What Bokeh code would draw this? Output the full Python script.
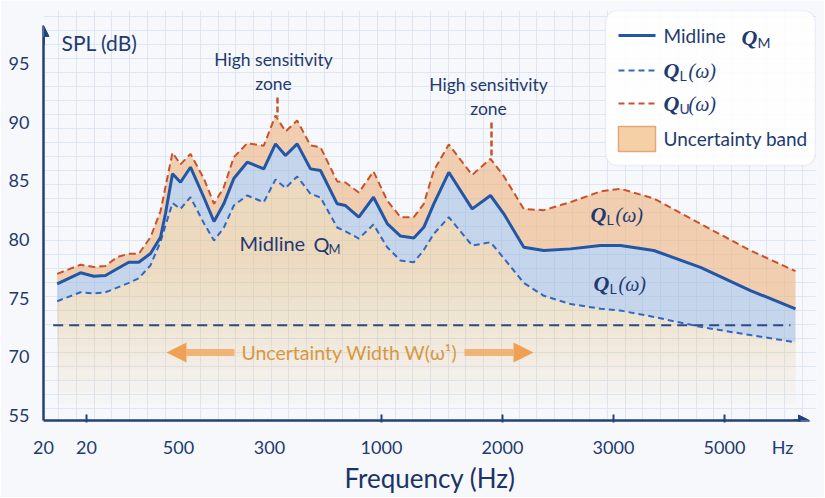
import numpy as np
from bokeh.plotting import figure
from bokeh.models import Range1d, FixedTicker, Arrow, NormalHead, BoxAnnotation
from bokeh.core.properties import value
from bokeh.embed import file_html
from bokeh.resources import INLINE

# ---------------- data (axis positions along the frequency axis, SPL in dB) -------------
freq_pos = [13.7, 37, 50.3, 62, 73.7, 85.3, 95.3, 107, 117, 122, 129, 137, 147, 160.3,
            170.5, 180.3, 190.3, 203.7, 220.3, 232, 242, 253.7, 267, 277, 293.7, 302,
            315.3, 330, 343.7, 357, 370.3, 380.3, 390.3, 405.3, 428.7, 447, 460.3,
            480.3, 500.3, 527, 557, 577, 610.3, 657, 707, 752]
mid_db = [76.22, 77.16, 76.87, 76.93, 77.5, 78.06, 78.06, 78.8, 80.19, 82.21, 85.6, 84.88,
          86.16, 83.6, 81.53, 83.04, 85.2, 86.59, 86.02, 88.15, 87.16, 88.15, 86.02, 85.88,
          83.04, 82.89, 81.9, 83.6, 81.36, 80.29, 80.12, 81.04, 83.04, 85.73, 82.61, 83.75,
          82.19, 79.34, 79.06, 79.2, 79.48, 79.48, 79.06, 77.63, 75.65, 74.09]
upper_db = [77.07, 77.85, 77.65, 77.75, 78.5, 78.78, 78.78, 80.19, 82.4, 84.5, 87.4, 86.4,
            87.3, 85.2, 83.04, 84.45, 87.01, 88.2, 88.0, 90.57, 89.2, 90.14, 88.01, 87.86,
            84.95, 84.86, 84.0, 85.8, 83.32, 81.9, 81.9, 83.04, 85.88, 88.1, 85.5, 86.88,
            85.4, 82.6, 82.5, 83.18, 84.1, 84.32, 83.5, 81.33, 79.06, 77.3]
lower_db = [74.74, 75.5, 75.4, 75.5, 75.9, 76.3, 76.7, 77.8, 79.8, 81.2, 83.1, 82.61,
            83.6, 81.4, 79.91, 81.0, 82.9, 83.75, 83.18, 85.11, 84.39, 85.37, 83.89, 83.58,
            81.02, 80.7, 80.08, 81.27, 79.34, 78.2, 78.06, 79.1, 80.48, 81.9, 79.48, 79.77,
            78.4, 76.3, 75.2, 74.5, 74.1, 73.94, 73.4, 72.55, 71.85, 71.24]
width_ref_db = 72.7

y_ticks = [65, 70, 75, 80, 85, 90, 95]
y_tick_labels = ["55", "70", "75", "80", "85", "90", "95"]
x_ticks = [0, 43, 135, 226, 338, 459, 570, 681, 739]
x_tick_labels = ["20", "20", "500", "300", "1000", "2000", "3000", "5000", "Hz"]
x_tick_marks = [43, 338, 459, 570, 681]

# ---------------- style ----------------
NAVY = "#1f3a70"
AXIS_C = "#23417a"
MID_C = "#2456a6"
LOW_C = "#3467c0"
UP_C = "#c8532b"
FONT = "Lato"
BG = "#f6f8fb"

Y0, Y1 = 64.57, 99.52
X0, X1 = 0, 773


def px2u(px):
    return px - 43


def py2v(py):
    return 95 - (py - 63) / 11.73


p = figure(width=824, height=497, output_backend="svg", toolbar_location=None,
           x_range=Range1d(X0, X1), y_range=Range1d(Y0, Y1),
           min_border_left=43, min_border_right=8, min_border_top=10, min_border_bottom=77)
p.background_fill_color = BG
p.border_fill_color = BG
p.outline_line_color = None

# grid
p.xgrid.ticker = FixedTicker(ticks=list(np.arange(15.3, 773, 17.7)))
p.ygrid.ticker = FixedTicker(ticks=list(94.26 - 1.194 * np.arange(-5, 30)))
for g in (p.xgrid, p.ygrid):
    g.grid_line_color = "#dce3f0"
    g.grid_line_width = 1
    g.grid_line_alpha = 0.9

# axes
p.yaxis.ticker = FixedTicker(ticks=y_ticks)
p.yaxis.major_label_overrides = {t: l for t, l in zip(y_ticks, y_tick_labels)}
p.xaxis.ticker = FixedTicker(ticks=x_ticks, minor_ticks=x_tick_marks)
p.xaxis.major_label_overrides = {t: l for t, l in zip(x_ticks, x_tick_labels)}
for ax in (p.xaxis, p.yaxis):
    ax.axis_line_color = AXIS_C
    ax.axis_line_width = 2.5
    ax.major_tick_line_color = None
    ax.major_label_text_font = FONT
    ax.major_label_text_font_size = "18px"
    ax.major_label_text_color = NAVY
p.yaxis.minor_tick_line_color = None
p.yaxis.major_label_standoff = 8
p.yaxis.bounds = (Y0, 97.3)
p.xaxis.bounds = (0, 757)
p.xaxis.minor_tick_line_color = AXIS_C
p.xaxis.minor_tick_line_width = 2
p.xaxis.minor_tick_in = 6
p.xaxis.minor_tick_out = 2
p.xaxis.major_label_standoff = 9
p.xaxis.axis_label = "Frequency (Hz)"
p.xaxis.axis_label_text_font = FONT
p.xaxis.axis_label_text_font_size = "26px"
p.xaxis.axis_label_text_font_style = "normal"
p.xaxis.axis_label_text_color = "#1b3366"
p.xaxis.axis_label_standoff = 1

p.add_layout(Arrow(x_start=0, y_start=96.6, x_end=0, y_end=98.25, line_color=AXIS_C, line_width=2.5,
                   end=NormalHead(size=11, fill_color=AXIS_C, line_color=AXIS_C)))
p.add_layout(Arrow(x_start=750, y_start=Y0, x_end=766, y_end=Y0, line_color=AXIS_C, line_width=2.5,
                   end=NormalHead(size=11, fill_color=AXIS_C, line_color=AXIS_C)))

# legend box (under glyphs)
p.add_layout(BoxAnnotation(left=px2u(605), right=px2u(815), top=py2v(10), bottom=py2v(165),
                           fill_color="white", fill_alpha=0.85, line_color="#c9d2e4", line_width=1.5,
                           border_radius=12, level="underlay"))

x = np.array(freq_pos)
mid = np.array(mid_db)
up = np.array(upper_db)
lo = np.array(lower_db)

# faded band below the lower curve
for lev in np.arange(79, 65.5, -1.0):
    p.varea(x=x, y1=np.minimum(lo, lev), y2=lo, fill_color="#f2c28f", fill_alpha=0.055)
# blue between lower and midline
p.varea(x=x, y1=lo, y2=mid, fill_color="#9db8df", fill_alpha=0.55)
# orange between midline and upper
p.varea(x=x, y1=mid, y2=up, fill_color="#efb27f", fill_alpha=0.6)

# reference dashed level
p.line(x=[x[0] - 4, x[-1] - 5], y=[width_ref_db, width_ref_db], line_color="#2e4a85",
       line_width=2, line_dash="10 6")

# curves
p.line(x=x, y=up, line_color=UP_C, line_width=2, line_dash="7 4")
p.line(x=x, y=lo, line_color=LOW_C, line_width=2, line_dash="6 4")
p.line(x=x, y=mid, line_color=MID_C, line_width=3)

# sensitivity annotations
p.line(x=[px2u(277)] * 2, y=[py2v(97), py2v(116)], line_color=UP_C, line_width=2.5, line_dash="6 3")
p.line(x=[px2u(491)] * 2, y=[py2v(122), py2v(157)], line_color=UP_C, line_width=2.5, line_dash="6 3")
p.text(x=[px2u(273), px2u(488)], y=[py2v(71), py2v(96)], text=["High sensitivity\nzone"] * 2,
       text_font=value(FONT), text_font_size="17.5px", text_color=NAVY, text_align="center",
       text_baseline="middle", text_line_height=1.1)


def txt(xp, yp, s, size="19px", color=NAVY, align="left", font=FONT, style="normal", xo=0, yo=0):
    p.text(x=[px2u(xp)], y=[py2v(yp)], text=[s], text_font=value(font), text_font_size=size,
           text_color=color, text_align=align, text_baseline="middle", text_font_style=style,
           x_offset=xo, y_offset=yo)


def qlabel(xp, yp, sub, tail="", size=22):
    txt(xp, yp, "Q", size=f"{size}px", font="Liberation Serif", style="bold italic")
    txt(xp, yp, sub, size=f"{int(size * 0.64)}px", xo=int(size * 0.74), yo=int(size * 0.25))
    if tail:
        txt(xp, yp, tail, size=f"{size - 2}px", font="Liberation Serif", style="italic",
            xo=int(size * 0.74 + size * 0.64 * 0.55) + 1)


txt(61, 42, "SPL (dB)", size="21px")
txt(239, 242, "Midline", size="20px")
txt(313, 243, "Q", size="20px")
txt(313, 243, "M", size="13px", xo=15, yo=5)
qlabel(590, 214, "L", "(ω)")
qlabel(593, 283, "L", "(ω)")
txt(349, 352, "Uncertainty Width W(ω¹)", size="19.5px", color="#d8983f", align="center")

p.add_layout(Arrow(x_start=px2u(234), x_end=px2u(166), y_start=py2v(352), y_end=py2v(352),
                   line_color="#f2a55c", line_alpha=0.8, line_width=7,
                   end=NormalHead(size=20, fill_color="#f0a055", line_color=None)))
p.add_layout(Arrow(x_start=px2u(464), x_end=px2u(533), y_start=py2v(352), y_end=py2v(352),
                   line_color="#f2a55c", line_alpha=0.8, line_width=7,
                   end=NormalHead(size=20, fill_color="#f0a055", line_color=None)))

# legend
p.line(x=[px2u(618), px2u(655)], y=[py2v(35)] * 2, line_color=MID_C, line_width=3)
p.line(x=[px2u(618), px2u(655)], y=[py2v(70)] * 2, line_color=LOW_C, line_width=2, line_dash="6 4")
p.line(x=[px2u(618), px2u(655)], y=[py2v(103)] * 2, line_color=UP_C, line_width=2, line_dash="6 4")
p.quad(left=[px2u(618)], right=[px2u(655)], top=[py2v(126)], bottom=[py2v(151)],
       fill_color="#f5cfa6", line_color="#e2a877", line_width=1.5)
txt(663, 35, "Midline", size="19px")
qlabel(741, 37, "M", size=22)
qlabel(663, 70, "L", "(ω)", size=22)
qlabel(663, 103, "U", "(ω)", size=22)
txt(663, 138, "Uncertainty band", size="19px")

open("out.html", "w").write(file_html(p, INLINE))
